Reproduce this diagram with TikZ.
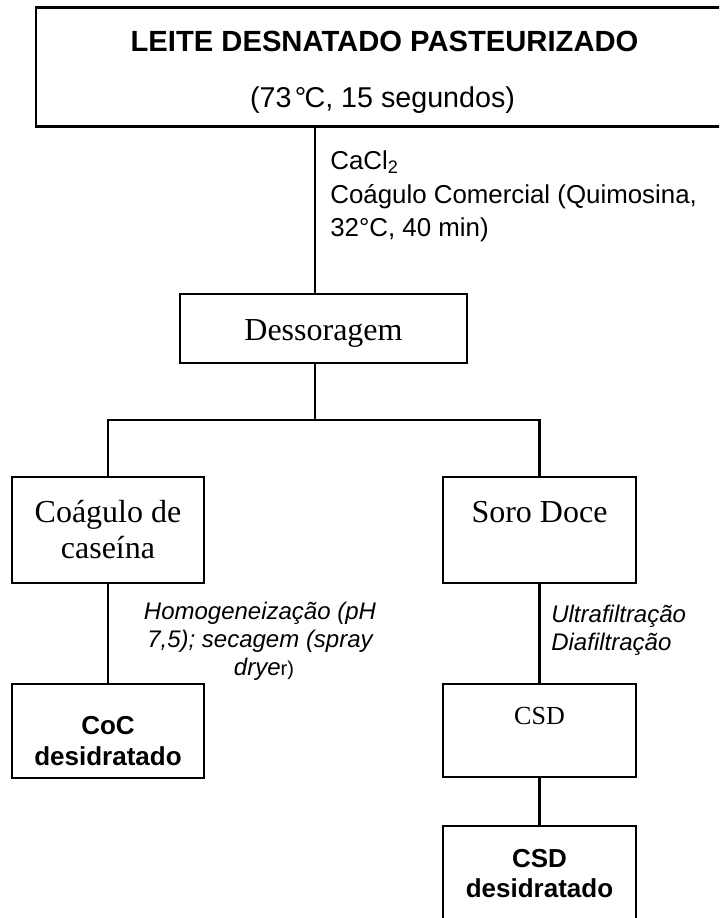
\documentclass[tikz,border=0pt]{standalone}
\usepackage{fontspec}
\setmainfont{Liberation Serif}
\newfontfamily\arialfont{Liberation Sans}
\begin{document}
\begin{tikzpicture}[x=0.75pt, y=-0.75pt, line width=2pt,
  box/.style={draw, rectangle, inner sep=0pt, line width=2pt},
  txt/.style={inner sep=0pt, anchor=base},
  serif/.style={txt, font=\fontsize{24}{28}\selectfont},
  serifsmall/.style={txt, font=\fontsize{19.5}{23}\selectfont},
  boldsans/.style={txt, font=\arialfont\bfseries\fontsize{19.5}{23}\selectfont},
  notesans/.style={inner sep=0pt, anchor=base west, font=\arialfont\fontsize{19.4}{23}\selectfont},
  noteital/.style={txt, font=\arialfont\itshape\fontsize{18}{21}\selectfont},
  link/.style={draw, line width=2pt}]
\useasboundingbox (0,0) rectangle (719,918);
\clip (0,0) rectangle (719,918);

% boxes
\node[box, minimum width=514.5pt, minimum height=89.25pt] (top) at (379,67) {};
\node[box, minimum width=215.25pt, minimum height=51.75pt] (dess) at (323.5,328.5) {};
\node[box, minimum width=144pt, minimum height=79.5pt] (coag) at (108,530) {};
\node[box, minimum width=144.75pt, minimum height=79.5pt] (soro) at (539.5,530) {};
\node[box, minimum width=144pt, minimum height=70.5pt] (coc) at (108,731) {};
\node[box, minimum width=144.75pt, minimum height=69.75pt] (csd) at (539.5,730.5) {};
\node[box, minimum width=144.75pt, minimum height=82.5pt] (csdd) at (539.5,881) {};

% box texts
\node[txt, font=\arialfont\bfseries\fontsize{21.9}{26}\selectfont] (title) at (384.5,51) {LEITE DESNATADO PASTEURIZADO};
\node[txt, font=\arialfont\fontsize{21.5}{25}\selectfont] (temp) at (382.5,107) {(73\kern0.12em°\kern-0.06em C, 15 segundos)};
\node[serif] (dessT) at (323.5,340) {Dessoragem};
\node[serif] (coagA) at (108,522) {Coágulo de};
\node[serif] (coagB) at (108,558) {caseína};
\node[serif] (soroT) at (539.5,522) {Soro Doce};
\node[boldsans] (cocA) at (108,734) {CoC};
\node[boldsans] (cocB) at (108,765) {desidratado};
\node[serifsmall] (csdT) at (539.5,724) {CSD};
\node[boldsans] (csddA) at (539.5,867) {CSD};
\node[boldsans] (csddB) at (539.5,897) {desidratado};

% process notes
\node[notesans] (noteA) at (329,169) {CaCl\textsubscript{2}};
\node[notesans] (noteB) at (329,203) {Coágulo Comercial (Quimosina,};
\node[notesans] (noteC) at (329,236) {32°C, 40 min)};
\node[noteital] (homA) at (260,619) {Homogeneização (pH};
\node[noteital] (homB) at (260,647) {7,5); secagem (spray};
\node[noteital] (homC) at (264,675) {drye{\upshape\fontsize{15}{18}\selectfont r)}};
\node[noteital, anchor=base west] (ufA) at (550,622) {Ultrafiltração};
\node[noteital, anchor=base west] (ufB) at (550,650) {Diafiltração};

% connectors
\coordinate (trunk) at (315,0);
\coordinate (split) at (315,420);
\draw[link] (trunk |- top.south) -- (trunk |- dess.north);
\draw[link] (trunk |- dess.south) -- (split);
\draw[link] (coag.north) |- (split) -| (soro.north);
\draw[link] (coag.south) -- (coc.north);
\draw[link] (soro.south) -- (csd.north);
\draw[link] (csd.south) -- (csdd.north);
\end{tikzpicture}
\end{document}
